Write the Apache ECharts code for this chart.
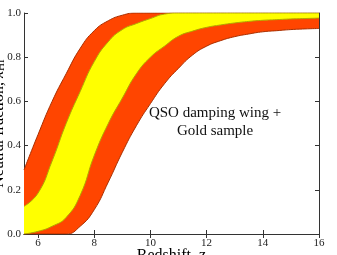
<!DOCTYPE html>
<html>
<head>
<meta charset="utf-8">
<script src="https://cdn.jsdelivr.net/npm/echarts@6/dist/echarts.min.js"></script>
<style>html,body{margin:0;padding:0;background:#fff;}#c{width:337px;height:255px;}</style>
</head>
<body>
<div id="c"></div>
<script>
// Redshift grid (uniform 0.5 steps)
var redshift = [5.5, 6, 6.5, 7, 7.5, 8, 8.5, 9, 9.5, 10, 10.5, 11, 11.5, 12, 12.5, 13, 13.5, 14, 14.5, 15, 15.5, 16];
// Outer (red) band upper and lower edges
var outerUpper = [0.29, 0.45, 0.60, 0.725, 0.84, 0.92, 0.965, 0.99, 1, 1, 1, 1, 1, 1, 1, 1, 1, 1, 1, 1, 1, 1];
var outerLower = [0, 0, 0, 0, 0.035, 0.11, 0.235, 0.37, 0.49, 0.59, 0.68, 0.75, 0.81, 0.85, 0.875, 0.893, 0.905, 0.915, 0.92, 0.925, 0.928, 0.93];
// Inner (yellow) band upper and lower edges
var innerUpper = [0.125, 0.185, 0.33, 0.50, 0.645, 0.78, 0.87, 0.925, 0.952, 0.975, 0.995, 1, 1, 1, 1, 1, 1, 1, 1, 1, 1, 1];
var innerLower = [0, 0.012, 0.035, 0.075, 0.175, 0.355, 0.50, 0.615, 0.725, 0.80, 0.85, 0.895, 0.918, 0.935, 0.946, 0.955, 0.962, 0.967, 0.97, 0.973, 0.975, 0.977];
// Tick labels
var xTicks = [6, 8, 10, 12, 14, 16];
var annotation = 'QSO damping wing +\nGold sample';

function diff(top, bot) { return top.map(function (v, i) { return +(v - bot[i]).toFixed(4); }); }
function isTick(idx, val) { return xTicks.indexOf(Number(val)) >= 0; }

var serif = 'Liberation Serif';
var chart = echarts.init(document.getElementById('c'), null, { renderer: 'canvas' });
var axisCol = '#333';
var common = { smooth: 0.5, symbol: 'none', animation: false, xAxisIndex: 0, yAxisIndex: 0 };
var cats = redshift.map(String);

chart.setOption({
  animation: false,
  grid: { left: 24, right: 18, top: 13, bottom: 21, show: false, containLabel: false, outerBoundsMode: 'none' },
  xAxis: [{
    type: 'category', data: cats, boundaryGap: false, position: 'bottom',
    name: 'Redshift, z', nameLocation: 'middle', nameGap: 14, nameMoveOverlap: false,
    nameTextStyle: { fontFamily: serif, fontSize: 16, color: '#000', verticalAlign: 'top' },
    axisLine: { show: true, lineStyle: { color: axisCol, width: 1 } },
    axisTick: { show: true, inside: true, length: 4, interval: isTick, lineStyle: { color: axisCol } },
    axisLabel: { interval: isTick, fontFamily: serif, fontSize: 11, color: '#222', margin: 4 },
    splitLine: { show: false }
  }, {
    type: 'category', data: cats, boundaryGap: false, position: 'top',
    axisLine: { show: true, lineStyle: { color: axisCol, width: 1 } },
    axisTick: { show: true, inside: true, length: 4, interval: isTick, lineStyle: { color: axisCol } },
    axisLabel: { show: false }, splitLine: { show: false }
  }],
  yAxis: [{
    type: 'value', min: 0, max: 1, interval: 0.2, position: 'left',
    name: '{a|Neutral fraction, }{b|x}{c|HI}', nameLocation: 'middle', nameGap: 17, nameRotate: 90, nameMoveOverlap: false,
    nameTextStyle: { fontFamily: serif, fontSize: 16, color: '#000',
      rich: { a: { fontFamily: serif, fontSize: 16 }, b: { fontFamily: serif, fontSize: 16, fontStyle: 'italic' }, c: { fontFamily: serif, fontSize: 11, verticalAlign: 'bottom', padding: [6, 0, 0, 0] } } },
    axisLine: { show: true, lineStyle: { color: axisCol, width: 1 } },
    axisTick: { show: true, inside: true, length: 4, lineStyle: { color: axisCol } },
    axisLabel: { fontFamily: serif, fontSize: 11, color: '#222', margin: 3, formatter: function (v) { return v.toFixed(1); } },
    splitLine: { show: false }
  }, {
    type: 'value', min: 0, max: 1, interval: 0.2, position: 'right',
    axisLine: { show: true, lineStyle: { color: axisCol, width: 1 } },
    axisTick: { show: true, inside: true, length: 4, lineStyle: { color: axisCol } },
    axisLabel: { show: false }, splitLine: { show: false }
  }],
  series: [
    Object.assign({ type: 'line', name: 'outerLow', stack: 'outer', data: outerLower, z: 3,
      lineStyle: { color: '#a83000', width: 1 } }, common),
    Object.assign({ type: 'line', name: 'outerBand', stack: 'outer', data: diff(outerUpper, outerLower), z: 2,
      lineStyle: { color: '#a83000', width: 1 }, areaStyle: { color: '#ff4500', opacity: 1 } }, common),
    Object.assign({ type: 'line', name: 'innerLow', stack: 'inner', data: innerLower, z: 5,
      lineStyle: { color: '#b0a800', width: 1 } }, common),
    Object.assign({ type: 'line', name: 'innerBand', stack: 'inner', data: diff(innerUpper, innerLower), z: 4,
      lineStyle: { color: '#b0a800', width: 1 }, areaStyle: { color: '#ffff00', opacity: 1 } }, common)
  ],
  graphic: [{
    type: 'text', x: 215, y: 104, z: 10,
    style: { text: annotation, align: 'center', verticalAlign: 'top', font: '15px "Liberation Serif"', fill: '#111', lineHeight: 18 }
  }]
});
</script>
</body>
</html>
